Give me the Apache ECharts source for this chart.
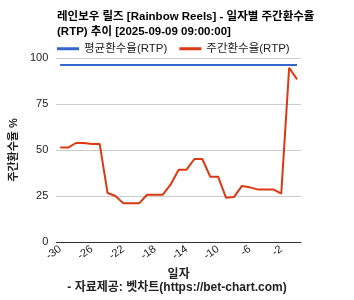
<!DOCTYPE html>
<html>
<head>
<meta charset="utf-8">
<script src="https://cdn.jsdelivr.net/npm/echarts@6/dist/echarts.min.js"></script>
<style>
  html, body { margin: 0; padding: 0; background: #fff; }
  #chart { width: 354px; height: 300px; }
</style>
</head>
<body>
<div id="chart"></div>
<script>
// 일자 (-30 ~ 0)
const days = [-30, -29, -28, -27, -26, -25, -24, -23, -22, -21, -20, -19, -18, -17, -16,
  -15, -14, -13, -12, -11, -10, -9, -8, -7, -6, -5, -4, -3, -2, -1, 0];

// 주간환수율(RTP)
const weeklyRtp = [51.3, 51.3, 53.8, 53.8, 53.3, 53.3, 26.6, 25.0, 21.0, 21.0, 21.0, 25.7,
  25.7, 25.7, 31.3, 39.3, 39.3, 45.1, 45.1, 35.5, 35.5, 24.1, 24.4, 30.4, 29.7, 28.6,
  28.6, 28.6, 26.3, 94.7, 88.4];

// 평균환수율(RTP)
const avgRtp = days.map(() => 96.2);

const font = '"Liberation Sans", Arial, "Noto Sans CJK KR", sans-serif';

const chart = echarts.init(document.getElementById('chart'));

chart.setOption({
  animation: false,
  textStyle: { fontFamily: font },
  title: {
    text: '레인보우 릴즈 [Rainbow Reels] - 일자별 주간환수율\n(RTP) 추이 [2025-09-09 09:00:00]',
    left: 52,
    top: 4,
    textStyle: { fontSize: 11.5, fontWeight: 'bold', color: '#000', lineHeight: 15, fontFamily: font }
  },
  legend: {
    left: 52,
    top: 38,
    itemWidth: 22,
    itemHeight: 3,
    itemGap: 12,
    icon: 'rect',
    textStyle: { fontSize: 11.5, color: '#222', fontFamily: font },
    data: ['평균환수율(RTP)', '주간환수율(RTP)']
  },
  grid: { left: 53, right: 53, top: 58, bottom: 58 },
  xAxis: {
    type: 'category',
    data: days,
    boundaryGap: true,
    name: '일자',
    nameLocation: 'middle',
    nameGap: 23,
    nameTextStyle: { fontSize: 12, fontWeight: 'bold', color: '#222', fontFamily: font },
    axisLine: { lineStyle: { color: '#333' } },
    axisTick: { show: false },
    axisLabel: {
      interval: 3,
      rotate: 35,
      fontSize: 11,
      color: '#222',
      margin: 6
    }
  },
  yAxis: {
    type: 'value',
    min: 0,
    max: 100,
    interval: 25,
    name: '주간환수율 %',
    nameLocation: 'middle',
    nameGap: 35,
    nameTextStyle: { fontSize: 11, fontWeight: 'bold', color: '#222', fontFamily: font },
    axisLine: { show: false },
    axisTick: { show: false },
    axisLabel: { fontSize: 11, color: '#222', margin: 8 },
    splitLine: { lineStyle: { color: '#cccccc' } }
  },
  graphic: [{
    type: 'text',
    left: 'center',
    top: 282,
    style: {
      text: '- 자료제공: 벳차트(https://bet-chart.com)',
      fontSize: 12,
      fontWeight: 'bold',
      fill: '#222',
      fontFamily: font
    }
  }],
  series: [
    {
      name: '평균환수율(RTP)',
      type: 'line',
      data: avgRtp,
      symbol: 'none',
      itemStyle: { color: '#3366cc' },
      lineStyle: { width: 2, color: '#3366cc' }
    },
    {
      name: '주간환수율(RTP)',
      type: 'line',
      data: weeklyRtp,
      symbol: 'none',
      itemStyle: { color: '#dc3912' },
      lineStyle: { width: 2, color: '#dc3912' }
    }
  ]
});
</script>
</body>
</html>
